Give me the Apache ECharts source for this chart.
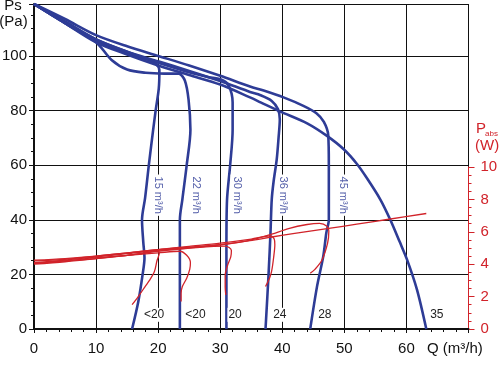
<!DOCTYPE html>
<html><head><meta charset="utf-8">
<script src="https://cdn.jsdelivr.net/npm/echarts/dist/echarts.min.js"></script>
<style>html,body{margin:0;padding:0;background:#fff}#c{width:500px;height:388px}</style>
</head><body><div id="c"></div>
<script>
// ---- data (Q in m3/h, Ps in Pa, Pabs in W) ----
const xTickLabels = [0,10,20,30,40,50,60];
const yTickLabels = [0,20,40,60,80,100];
const wTickLabels = [0,2,4,6,8,10];

const fan15 = [[0,119],[5,112.5],[10,106],[15,101.5],[18,99],[19.6,97.2],[20.2,94.5],[20.1,88],[19.6,80],[19.2,73],[18.5,60],[17.9,48],[17.4,40],[17.6,32],[17.8,26],[17.5,20],[16.8,10],[15.8,0]];
const fan22 = [[0,119],[5,112],[10,105],[12.5,98.5],[15,95],[18,93.8],[21,93.5],[23.3,93.5],[24.3,91],[24.9,84],[25.2,73],[24.6,60],[23.9,47.4],[23.5,40],[23.5,20],[23.5,0]];
const fan30 = [[0,119],[5,112],[10,105.5],[15,101],[20,97.5],[25,94],[28,92.3],[30.3,91.2],[31.4,89],[32,83],[32,73],[31.6,60],[31.1,47.4],[31,30],[31,0]];
const fan36 = [[0,119],[5,112.5],[10,106],[15,101.5],[20,98],[25,94.5],[30,90.8],[34.8,86.8],[36.5,85.6],[38.3,83.5],[39.3,80.5],[39.6,76.8],[39.4,70],[39.1,62],[38.6,54],[38.3,47.4],[38.1,35.3],[37.8,20.5],[37.3,0]];
const fan45 = [[0,119],[5,113.5],[10,107.6],[15,103.5],[20,100],[25,96.5],[30,92.7],[34.8,88.8],[37,87.3],[40.2,84.8],[43.4,81.7],[45.5,79],[46.7,75.8],[47.4,71],[47.5,60],[47.5,40],[47.1,35.3],[46.6,26.6],[45.6,15.6],[44.5,0]];
const fanMax = [[0,119],[5,112],[10,105],[15,100.5],[20,96.5],[25,93],[30,89.5],[34.8,84.8],[36.5,83],[39.7,79.6],[44,75.3],[47.2,70.7],[49.9,65.8],[52,60.5],[53.7,55],[55.8,47.4],[57.4,40],[58.9,32],[60.1,25.4],[61.7,14.4],[63.2,0]];

const pw15 = [[0,4.0],[5,4.15],[10,4.35],[15,4.55],[18,4.7],[19.8,4.85],[20.2,4.7],[19.8,4.2],[19.4,3.55],[18.6,3.0],[17.9,2.62],[16.8,2.0],[15.8,1.5]];
const pw22 = [[0,4.05],[5,4.2],[10,4.4],[15,4.55],[20,4.7],[23.5,4.8],[24.6,4.55],[25.2,4.1],[25.1,3.7],[24.6,3.14],[23.9,2.62],[23.7,2.2],[23.7,1.7]];
const pw30 = [[0,4.1],[5,4.25],[10,4.45],[15,4.65],[20,4.85],[25,5.0],[30.8,5.12],[31.8,4.85],[31.7,4.45],[31.2,3.95],[30.8,3.3],[30.8,2.6],[30.9,2.1]];
const pw36 = [[0,4.2],[5,4.3],[10,4.5],[15,4.7],[20,4.9],[25,5.1],[30,5.3],[35,5.55],[38.1,5.75],[38.7,5.55],[38.8,5.2],[38.6,4.4],[38.3,3.6],[38,3.2],[37.3,2.62]];
const pw45 = [[0,4.25],[5,4.35],[10,4.5],[15,4.7],[20,4.9],[25,5.05],[30,5.2],[33,5.35],[36,5.6],[38.3,5.85],[41,6.2],[44,6.45],[46,6.52],[47.2,6.35],[47.5,6.05],[47.3,5.3],[46.4,4.26],[45.3,3.7],[44.5,3.44]];
const pwMax = [[0,4.05],[5,4.2],[10,4.35],[15,4.55],[20,4.8],[25,5.0],[30,5.2],[34.8,5.45],[38.3,5.68],[42,5.9],[47.5,6.21],[52,6.47],[56.9,6.76],[63.2,7.13]];

const flowLabels = ['15 m³/h','22 m³/h','30 m³/h','36 m³/h','45 m³/h'];
const flowLabelQ = [20, 26.1, 32.7, 40.1, 49.8];
const flowLabelP = 49;
const soundLabels = ['<20','<20','20','24','28','35'];
const soundLabelQ = [19.35, 26.0, 32.4, 39.6, 46.85, 64.9];
const soundLabelP = 5.2;

// ---- styles ----
const BLUE = '#2e3c96', RED = '#d1232a', BLACK = '#111', FLOWTXT = '#5560aa';
const FONT = '"Liberation Sans", Arial, sans-serif';

const chart = echarts.init(document.getElementById('c'), null, {renderer:'canvas'});

const blueSeries = [fan15, fan22, fan30, fan36, fan45, fanMax].map(d => ({
  type:'line', xAxisIndex:0, yAxisIndex:0, data:d, showSymbol:false, smooth:0.3,
  lineStyle:{color:BLUE, width:2.6}, silent:true, z:3
}));
const redSeries = [pw15, pw22, pw30, pw36, pw45, pwMax].map(d => ({
  type:'line', xAxisIndex:1, yAxisIndex:1, data:d, showSymbol:false, smooth:0.3,
  lineStyle:{color:RED, width:1.3}, silent:true, z:4
}));

chart.setOption({
  animation:false,
  backgroundColor:'#fff',
  grid:[
    {left:34, right:31.5, top:4, bottom:59, outerBoundsMode:'none', containLabel:false},
    {left:34, right:31.5, top:167, bottom:59, outerBoundsMode:'none', containLabel:false}
  ],
  xAxis:[
    {gridIndex:0, type:'value', min:0, max:70, interval:10,
     axisLine:{show:true, onZero:false, lineStyle:{color:BLACK, width:2}},
     axisTick:{show:true, length:4, lineStyle:{color:BLACK}},
     minorTick:{show:true, splitNumber:5, length:3, lineStyle:{color:BLACK}},
     splitLine:{show:true, lineStyle:{color:BLACK, width:1}},
     axisLabel:{show:true, margin:12, fontSize:15, color:BLACK, fontFamily:FONT,
       formatter:v => xTickLabels.indexOf(v) >= 0 ? String(v) : ''}},
    {gridIndex:1, type:'value', min:0, max:70, interval:10, show:false}
  ],
  yAxis:[
    {gridIndex:0, type:'value', min:0, max:119, interval:20, position:'left',
     axisLine:{show:true, onZero:false, lineStyle:{color:BLACK, width:2}},
     axisTick:{show:true, length:5, lineStyle:{color:BLACK}},
     minorTick:{show:true, splitNumber:4, length:3, lineStyle:{color:BLACK}},
     splitLine:{show:true, lineStyle:{color:BLACK, width:1}},
     axisLabel:{show:true, margin:7, fontSize:15, color:BLACK, fontFamily:FONT,
       formatter:v => yTickLabels.indexOf(v) >= 0 ? String(v) : ''}},
    {gridIndex:1, type:'value', min:0, max:10, interval:2, position:'right',
     axisLine:{show:true, onZero:false, lineStyle:{color:RED, width:1}},
     axisTick:{show:true, length:6, lineStyle:{color:RED}},
     minorTick:{show:true, splitNumber:4, length:3, lineStyle:{color:RED}},
     splitLine:{show:false},
     axisLabel:{show:true, margin:12, fontSize:15, color:RED, fontFamily:FONT,
       formatter:v => wTickLabels.indexOf(v) >= 0 ? String(v) : ''}}
  ],
  series: blueSeries.concat(redSeries)
});

const px = (q,p) => chart.convertToPixel({xAxisIndex:0, yAxisIndex:0}, [q,p]);
const graphics = [];
flowLabels.forEach((t,i) => {
  const pt = px(flowLabelQ[i], flowLabelP);
  graphics.push({type:'text', x:pt[0], y:pt[1], rotation:-Math.PI/2, z:10,
    style:{text:t, fill:FLOWTXT, font:'11px ' + FONT, align:'center', verticalAlign:'middle',
      backgroundColor:'#fff', padding:[1,2,1,2]}});
});
soundLabels.forEach((t,i) => {
  const pt = px(soundLabelQ[i], soundLabelP);
  graphics.push({type:'text', x:pt[0], y:pt[1], z:10,
    style:{text:t, fill:'#222', font:'12px ' + FONT, align:'center', verticalAlign:'middle',
      backgroundColor:'#fff', padding:[1,1,1,1]}});
});
// axis names
graphics.push({type:'text', x:13, y:6, z:10, style:{text:'Ps', fill:BLACK, font:'15px ' + FONT, align:'center', verticalAlign:'middle'}});
graphics.push({type:'text', x:13.5, y:22, z:10, style:{text:'(Pa)', fill:BLACK, font:'15px ' + FONT, align:'center', verticalAlign:'middle'}});
graphics.push({type:'text', x:427, y:349, z:10, style:{text:'Q (m³/h)', fill:BLACK, font:'15px ' + FONT, align:'left', verticalAlign:'middle'}});
graphics.push({type:'text', x:476, y:129, z:10, style:{text:'P', fill:RED, font:'15px ' + FONT, align:'left', verticalAlign:'middle'}});
graphics.push({type:'text', x:485, y:134, z:10, style:{text:'abs', fill:RED, font:'8px ' + FONT, align:'left', verticalAlign:'middle'}});
graphics.push({type:'text', x:475, y:146, z:10, style:{text:'(W)', fill:RED, font:'15px ' + FONT, align:'left', verticalAlign:'middle'}});

chart.setOption({graphic:graphics});
</script>
</body></html>
